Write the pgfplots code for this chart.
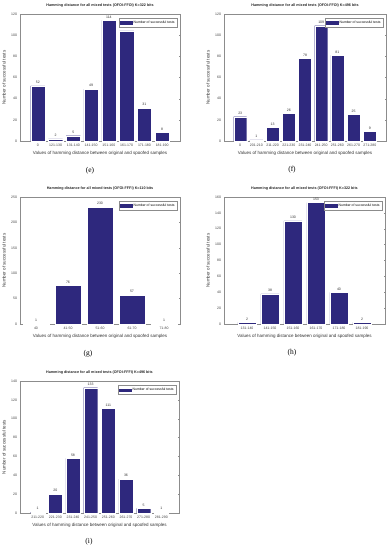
\documentclass[border=0pt]{standalone}
\usepackage{pgfplots}
\pgfplotsset{compat=1.18}
\usepackage{fontspec}
\setmainfont{Liberation Sans}
\newfontfamily\capfont{Liberation Serif}
\definecolor{barcol}{RGB}{46,40,125}
\pgfplotsset{
  panel/.style={
    scale only axis,
    ybar, bar width=0.8,
    ymin=0,
    xtick=data,
    axis line style={draw=black!45, line width=0.3pt},
    every tick/.style={draw=black!45, line width=0.3pt},
    major tick length=1.3pt,
    tick align=inside,
    /pgf/number format/assume math mode=true,
    tick label style={font=\fontsize{3.5}{4}\selectfont, text=black!75},
    xticklabel style={yshift=0.6pt},
    yticklabel style={xshift=0.5pt},
    title style={font=\bfseries\fontsize{3.7}{4.5}\selectfont, yshift=-2.5pt, text=black!85},
    xlabel style={font=\fontsize{4.5}{5}\selectfont, text=black!80, yshift=2.5pt},
    ylabel style={font=\fontsize{4.5}{5}\selectfont, text=black!80, yshift=-1.5pt},
    xlabel={Values of hamming distance between original and spoofed samples},
    ylabel={Number of successful tests},
    nodes near coords,
    every node near coord/.append style={font=\fontsize{3.5}{4}\selectfont, text=black!80, yshift=-1.2pt},
    legend style={at={(0.982,0.968)}, anchor=north east, draw=black!45, line width=0.3pt,
      font=\fontsize{3.4}{4}\selectfont, inner sep=0.6pt, outer sep=0pt,
      legend cell align=left},
    legend image code/.code={\fill[barcol] (0pt,-1.2pt) rectangle (12pt,1.2pt);},
  },
  barplot/.style={fill=barcol, draw=white, line width=0.15pt},
}
\begin{document}
\begin{tikzpicture}
\path[use as bounding box] (0pt,0pt) rectangle (389pt,-550pt);

% (e)
\begin{axis}[panel, at={(20pt,-141pt)}, anchor=south west, width=160pt, height=127pt,
  xmin=0, xmax=9, ymax=120, ytick={0,20,...,120},
  xtick={1,...,8},
  xticklabels={0,121-130,131-140,141-150,151-160,161-170,171-180,181-190},
  title={Hamming distance for all mixed tests (OFOI-FFOI) K=322 bits}]
\addplot[barplot] coordinates {(1,52) (2,2) (3,5) (4,49) (5,114) (6,104) (7,31) (8,8)};
\addlegendentry{Number of successful tests}
\end{axis}
\node[font=\capfont\fontsize{7.5}{8}\selectfont] at (90pt,-171pt) {(e)};

% (f)
\begin{axis}[panel, at={(224pt,-141pt)}, anchor=south west, width=162pt, height=127pt,
  xmin=0, xmax=10, ymax=120, ytick={0,20,...,120},
  xtick={1,...,9},
  xticklabels={0,201-210,211-220,221-230,231-240,241-250,251-260,261-270,271-280},
  title={Hamming distance for all mixed tests (OFOI-FFOI) K=496 bits}]
\addplot[barplot] coordinates {(1,23) (2,1) (3,13) (4,26) (5,78) (6,109) (7,81) (8,25) (9,9)};
\addlegendentry{Number of successful tests}
\end{axis}
\node[font=\capfont\fontsize{7.5}{8}\selectfont] at (292pt,-170pt) {(f)};

% (g)
\begin{axis}[panel, at={(20pt,-324pt)}, anchor=south west, width=160pt, height=127pt,
  xmin=0.5, xmax=5.5, ymax=250, ytick={0,50,...,250},
  xtick={1,...,5},
  xticklabels={40,41-50,51-60,61-70,71-80},
  title={Hamming distance for all mixed tests (OFOI-FFFI) K=110 bits}]
\addplot[barplot] coordinates {(1,1) (2,76) (3,230) (4,57) (5,1)};
\addlegendentry{Number of successful tests}
\end{axis}
\node[font=\capfont\fontsize{7.5}{8}\selectfont] at (88pt,-354pt) {(g)};

% (h)
\begin{axis}[panel, at={(224pt,-324pt)}, anchor=south west, width=161pt, height=127pt,
  xmin=0, xmax=7, ymax=160, ytick={0,20,...,160},
  xtick={1,...,6},
  xticklabels={131-140,141-150,151-160,161-170,171-180,181-190},
  title={Hamming distance for all mixed tests (OFOI-FFFI) K=322 bits}]
\addplot[barplot] coordinates {(1,2) (2,38) (3,130) (4,153) (5,40) (6,2)};
\addlegendentry{Number of successful tests}
\end{axis}
\node[font=\capfont\fontsize{7.5}{8}\selectfont] at (292pt,-353pt) {(h)};

% (i)
\begin{axis}[panel, at={(20pt,-513pt)}, anchor=south west, width=159pt, height=132pt,
  xmin=0, xmax=9, ymax=140, ytick={0,20,...,140},
  xtick={1,...,8},
  xticklabels={211-220,221-230,231-240,241-250,251-260,261-270,271-280,281-290},
  title={Hamming distance for all mixed tests (OFOI-FFFI) K=496 bits}]
\addplot[barplot] coordinates {(1,1) (2,20) (3,58) (4,133) (5,111) (6,36) (7,5) (8,1)};
\addlegendentry{Number of successful tests}
\end{axis}
\node[font=\capfont\fontsize{7.5}{8}\selectfont] at (89pt,-542pt) {(i)};
\end{tikzpicture}
\end{document}
